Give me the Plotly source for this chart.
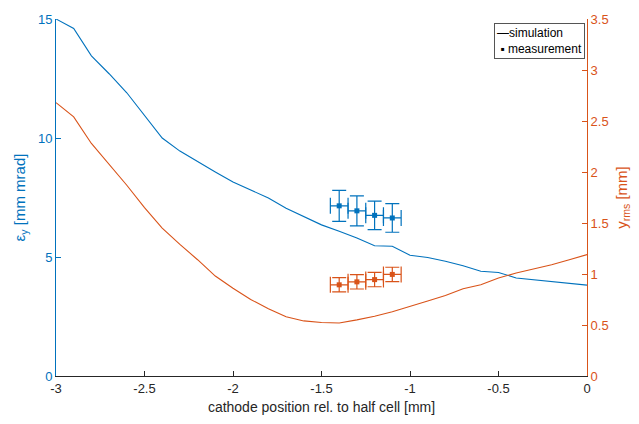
import plotly.graph_objects as go

# simulation grid (cathode position rel. to half cell, mm)
x_sim = [-3.0, -2.9, -2.8, -2.7, -2.6, -2.5, -2.4, -2.3, -2.2, -2.1, -2.0,
         -1.9, -1.8, -1.7, -1.6, -1.5, -1.4, -1.3, -1.2, -1.1, -1.0,
         -0.9, -0.8, -0.7, -0.6, -0.5, -0.4, -0.3, -0.2, -0.1, 0.0]
# emittance eps_y [mm mrad] (left axis)
eps_sim = [15.0, 14.6, 13.45, 12.7, 11.9, 10.95, 10.0, 9.45, 9.0, 8.57, 8.15,
           7.8, 7.48, 7.05, 6.7, 6.35, 6.08, 5.8, 5.47, 5.45, 5.07,
           4.98, 4.82, 4.63, 4.4, 4.35, 4.12, 4.04, 3.98, 3.9, 3.82]
# beam size y_rms [mm] (right axis)
yrms_sim = [2.68, 2.54, 2.28, 2.08, 1.87, 1.65, 1.45, 1.29, 1.14, 0.98, 0.86,
            0.75, 0.66, 0.58, 0.54, 0.525, 0.52, 0.55, 0.585, 0.63, 0.68,
            0.735, 0.79, 0.855, 0.895, 0.96, 1.01, 1.05, 1.09, 1.14, 1.19]

# measurements
x_meas = [-1.4, -1.3, -1.2, -1.1]
x_meas_err = [0.05, 0.05, 0.05, 0.05]
eps_meas = [7.15, 6.94, 6.75, 6.64]
eps_meas_err = [0.65, 0.63, 0.6, 0.6]
yrms_meas = [0.894, 0.923, 0.945, 0.996]
yrms_meas_err = [0.07, 0.07, 0.07, 0.07]

x_ticks = [-3, -2.5, -2, -1.5, -1, -0.5, 0]
x_ticklabels = ["-3", "-2.5", "-2", "-1.5", "-1", "-0.5", "0"]
y1_ticks = [0, 5, 10, 15]
y2_ticks = [0, 0.5, 1, 1.5, 2, 2.5, 3, 3.5]
y2_ticklabels = ["0", "0.5", "1", "1.5", "2", "2.5", "3", "3.5"]
legend_labels = ["simulation", "measurement"]

BLUE = "#0072BD"
ORANGE = "#D95319"
DARK = "#262626"
FONT = "Liberation Sans, Arial, Helvetica, sans-serif"

fig = go.Figure()

fig.add_trace(go.Scatter(x=x_sim, y=eps_sim, mode="lines", name=legend_labels[0],
                         line=dict(color=BLUE, width=1.1), showlegend=False))
fig.add_trace(go.Scatter(x=x_sim, y=yrms_sim, mode="lines", yaxis="y2",
                         line=dict(color=ORANGE, width=1.1), showlegend=False))

fig.add_trace(go.Scatter(
    x=x_meas, y=eps_meas, mode="markers", name=legend_labels[1],
    marker=dict(symbol="square", size=5, color=BLUE),
    error_y=dict(type="data", array=eps_meas_err, color=BLUE, thickness=1.2, width=7),
    error_x=dict(type="data", array=x_meas_err, color=BLUE, thickness=1.2, width=8),
    showlegend=False))
fig.add_trace(go.Scatter(
    x=x_meas, y=yrms_meas, mode="markers", yaxis="y2",
    marker=dict(symbol="square", size=5, color=ORANGE),
    error_y=dict(type="data", array=yrms_meas_err, color=ORANGE, thickness=1.2, width=7),
    error_x=dict(type="data", array=x_meas_err, color=ORANGE, thickness=1.2, width=8),
    showlegend=False))

# compact legend box (as in the reference)
fig.add_annotation(
    xref="paper", yref="paper", x=0.997, y=0.99, xanchor="right", yanchor="top",
    text="\u2014" + legend_labels[0] + "<br> \u25aa " + legend_labels[1],
    showarrow=False, align="left",
    font=dict(family=FONT, size=12, color="black"),
    bgcolor="white", bordercolor="#555555", borderwidth=1, borderpad=2,
)

fig.update_layout(
    width=639, height=424,
    margin=dict(l=56, r=52, t=15, b=46),
    paper_bgcolor="white", plot_bgcolor="white",
    font=dict(family=FONT, size=13, color=DARK),
    showlegend=False,
    xaxis=dict(range=[-3, 0], tickvals=x_ticks, ticktext=x_ticklabels,
               ticks="inside", ticklen=5, tickcolor=DARK, showgrid=False,
               zeroline=False, showline=True, linecolor=DARK, linewidth=1,
               tickfont=dict(size=13, color=DARK),
               title=dict(text="cathode position rel. to half cell [mm]",
                          font=dict(size=14, color=DARK), standoff=7)),
    yaxis=dict(range=[0, 15], tickvals=y1_ticks, ticks="inside", ticklen=5,
               tickcolor=BLUE, showgrid=False, zeroline=False, showline=True,
               linecolor=BLUE, linewidth=1, tickfont=dict(size=13, color=BLUE),
               title=dict(text="ε<sub>y</sub> [mm mrad]",
                          font=dict(size=15, color=BLUE), standoff=8)),
    yaxis2=dict(range=[0, 3.5], tickvals=y2_ticks, ticktext=y2_ticklabels,
                overlaying="y", side="right", ticks="inside", ticklen=5,
                tickcolor=ORANGE, showgrid=False, zeroline=False, showline=True,
                linecolor=ORANGE, linewidth=1,
                tickfont=dict(size=13, color=ORANGE),
                title=dict(text="y<sub>rms</sub> [mm]",
                           font=dict(size=15, color=ORANGE), standoff=8)),
)

fig.write_html("out.html")
